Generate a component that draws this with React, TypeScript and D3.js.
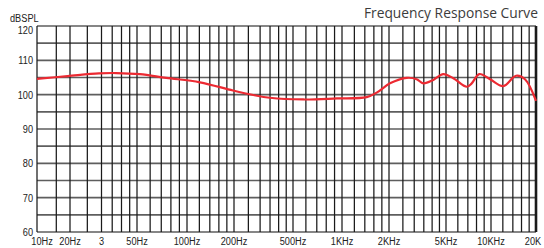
import React from "react";
import * as d3 from "d3";

// frequency axis: the printed chart is not a clean log scale, so anchor points are read off the picture
const axisFreqs = [10, 20, 30, 50, 100, 200, 500, 1000, 2000, 5000, 10000, 20000];
const axisPx = [37, 70, 101.5, 137, 187, 234, 293, 342, 389, 446, 491, 536];

const tickFreqs = [10, 20, 30, 50, 100, 200, 500, 1000, 2000, 5000, 10000, 20000];
const tickLabels = ["10Hz", "20Hz", "3", "50Hz", "100Hz", "200Hz", "500Hz", "1KHz", "2KHz", "5KHz", "10KHz", "20K"];

const gridFreqs = [
  10, 15, 20, 25, 30, 35, 40, 45, 50, 60, 70, 80, 90,
  100, 120, 140, 160, 180, 200, 250, 300, 350, 400, 450,
  500, 600, 700, 800, 900, 1000, 1200, 1400, 1600, 1800,
  2000, 2500, 3000, 3500, 4000, 4500, 5000, 6000, 7000, 8000, 9000,
  10000, 12000, 14000, 16000, 18000, 20000,
];

const yTicks = [60, 70, 80, 90, 100, 110, 120];
const yGrid = [60, 65, 70, 75, 80, 85, 90, 95, 100, 105, 110, 115, 120];

// measured response (Hz, dB SPL)
const freq = [
  10, 19, 29, 37, 52, 75, 121, 197, 270, 349, 578, 928, 1440, 1668,
  2032, 2658, 3121, 3470, 4079, 4782, 5594, 6877, 7430, 8354, 9850,
  12090, 14700, 16880, 20000,
];
const spl = [
  104.6, 105.4, 106.2, 106.3, 106.0, 104.9, 103.6, 101.2, 99.9, 99.1, 98.6, 98.9, 99.3, 100.6,
  103.3, 104.9, 104.5, 103.3, 104.3, 106.0, 104.8, 102.3, 103.3, 106.0, 104.5,
  102.5, 105.5, 104.5, 98.2,
];

// narrow label, squeezed horizontally like the condensed face in the print
const Narrow = ({ x, y, anchor, children }: any) => (
  <text
    transform={`translate(${x},${y}) scale(0.8,1)`}
    textAnchor={anchor}
    fontFamily="'Liberation Sans', Arial, sans-serif"
    fontSize={11.5}
    fill="#222"
  >
    {children}
  </text>
);

const App = () => {
  const width = 544;
  const height = 248;

  const x = d3.scaleLog().domain(axisFreqs).range(axisPx);
  const y = d3.scaleLinear().domain([60, 120]).range([232, 26]);

  const line = d3
    .line<number>()
    .x((d, i) => x(freq[i]))
    .y((d) => y(d))
    .curve(d3.curveCatmullRom.alpha(0.5));

  return (
    <svg
      width={width}
      height={height}
      style={{ position: "absolute", left: 0, top: 0, background: "#fff" }}
    >
      {/* horizontal grid, every 5 dB */}
      {yGrid.map((v) => (
        <line
          key={"h" + v}
          x1={x(10)}
          x2={x(20000)}
          y1={y(v)}
          y2={y(v)}
          stroke="#5e5e5e"
          strokeWidth={1.7}
        />
      ))}
      {/* vertical grid */}
      {gridFreqs.map((f) => (
        <line
          key={"v" + f}
          x1={x(f)}
          x2={x(f)}
          y1={y(120)}
          y2={y(60)}
          stroke="#1a1a1a"
          strokeWidth={f === 20000 ? 2.6 : 1.25}
        />
      ))}

      <path d={line(spl) || ""} fill="none" stroke="#ec2a32" strokeWidth={2.2} />

      {yTicks.map((v) => (
        <Narrow key={"yl" + v} x={33} y={y(v) + 4 + (v === 120 ? 4 : 0)} anchor="end">
          {v}
        </Narrow>
      ))}
      <Narrow x={10} y={22} anchor="start">
        dBSPL
      </Narrow>

      {tickFreqs.map((f, i) => (
        <Narrow
          key={"xl" + f}
          x={i === 0 ? x(f) + 5 : i === tickFreqs.length - 1 ? x(f) - 3 : x(f)}
          y={245}
          anchor="middle"
        >
          {tickLabels[i]}
        </Narrow>
      ))}

      <text
        x={538}
        y={18}
        textAnchor="end"
        fontFamily="'Open Sans', 'Noto Sans', sans-serif"
        fontSize={13.8}
        fill="#3c3c3c"
      >
        Frequency Response Curve
      </text>
    </svg>
  );
};

export default App;
